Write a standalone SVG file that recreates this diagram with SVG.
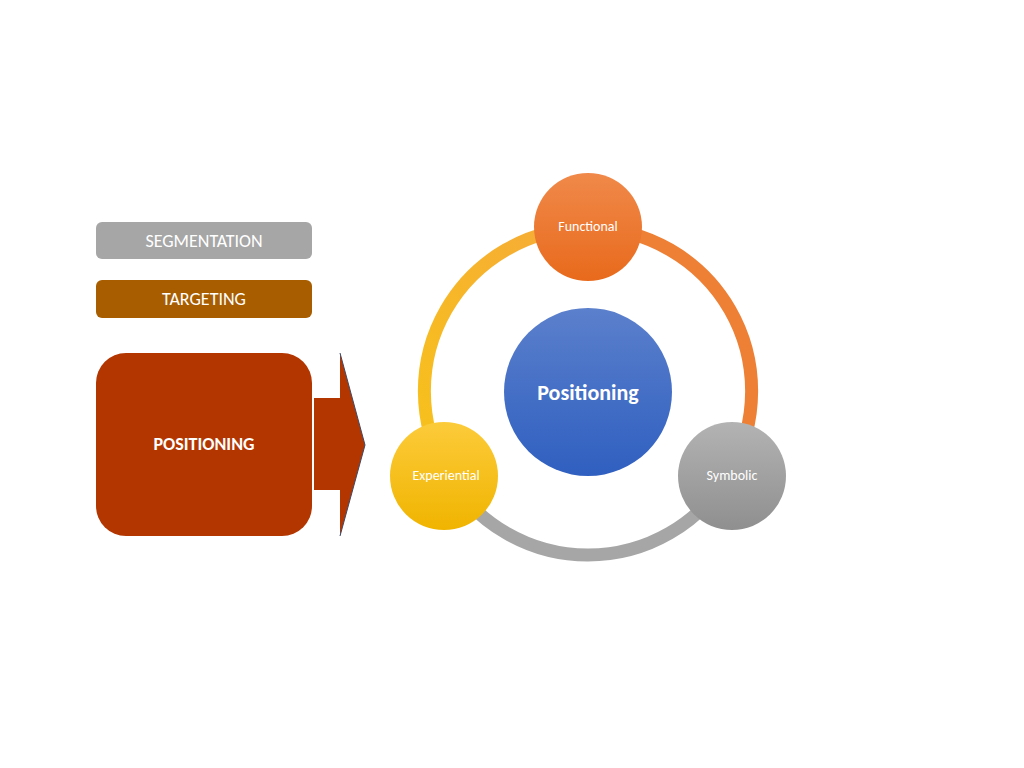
<svg xmlns="http://www.w3.org/2000/svg" width="1024" height="768" viewBox="0 0 1024 768">
<style>
.t{font-family:Calibri,"Liberation Sans",Arial,sans-serif;fill:#fff;text-anchor:middle;dominant-baseline:central}
.arc{fill:none;stroke-width:13}
</style>
<defs>
<linearGradient id="gb" x1="0" y1="0" x2="0" y2="1"><stop offset="0" stop-color="#5b80cc"/><stop offset="1" stop-color="#2f5fc0"/></linearGradient>
<linearGradient id="go" x1="0" y1="0" x2="0" y2="1"><stop offset="0" stop-color="#f0894a"/><stop offset="1" stop-color="#e86a1c"/></linearGradient>
<linearGradient id="gy" x1="0" y1="0" x2="0" y2="1"><stop offset="0" stop-color="#fccb3a"/><stop offset="1" stop-color="#f0b400"/></linearGradient>
<linearGradient id="gg" x1="0" y1="0" x2="0" y2="1"><stop offset="0" stop-color="#b3b3b3"/><stop offset="1" stop-color="#8f8f8f"/></linearGradient>
<linearGradient id="ay" x1="0" y1="1" x2="1" y2="0"><stop offset="0" stop-color="#f7c21a"/><stop offset="1" stop-color="#f6a93a"/></linearGradient>
</defs>
<rect width="1024" height="768" fill="#fff"/>
<g id="segmentation"><rect x="96" y="222" width="216" height="37" rx="6" fill="#a6a6a6"/><text class="t" x="204" y="240.5" font-size="18">SEGMENTATION</text></g>
<g id="targeting"><rect x="96" y="280" width="216" height="38" rx="6" fill="#a85e00"/><text class="t" x="204" y="299" font-size="18">TARGETING</text></g>
<g id="positioning-box"><rect x="96" y="353" width="216" height="183" rx="30" fill="#b33600"/><text class="t" x="204" y="444" font-size="18" font-weight="bold">POSITIONING</text></g>
<g id="connectors">
<path d="M314,398 H340 V353 L365,445 L340,536 V490 H314 Z" fill="#b33600"/>
<path d="M340,353 L365,445 L340,536" fill="none" stroke="#3a4a6a" stroke-width="1"/>
<path class="arc" stroke="#ee8035" d="M588,228 A163,163 0 0 1 729.2,473.5"/>
<path class="arc" stroke="#a6a6a6" d="M729.2,473.5 A163,163 0 0 1 446.8,473.5"/>
<path class="arc" stroke="url(#ay)" d="M446.8,473.5 A163,163 0 0 1 588,228"/>
</g>
<g id="center"><circle cx="588" cy="392" r="84" fill="url(#gb)"/><text class="t" x="588" y="392" font-size="22" font-weight="bold">Positioning</text></g>
<g id="functional"><circle cx="588" cy="227" r="54" fill="url(#go)"/><text class="t" x="588" y="226" font-size="14">Functional</text></g>
<g id="symbolic"><circle cx="732" cy="476" r="54" fill="url(#gg)"/><text class="t" x="732" y="475" font-size="14">Symbolic</text></g>
<g id="experiential"><circle cx="444" cy="476" r="54" fill="url(#gy)"/><text class="t" x="446" y="475" font-size="14">Experiential</text></g>
</svg>
